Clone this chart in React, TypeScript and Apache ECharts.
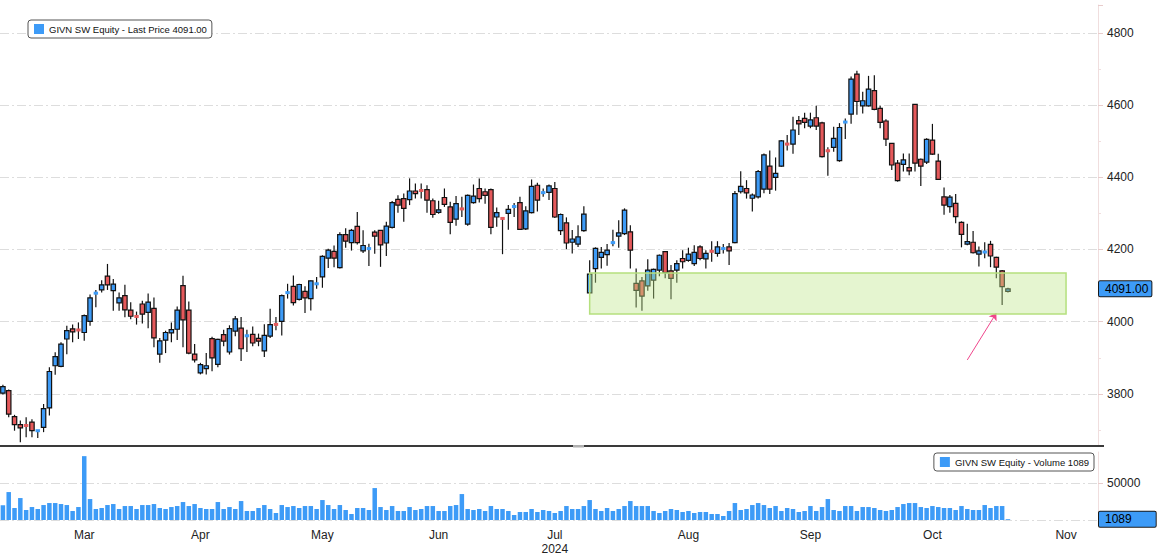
import React, { useEffect, useRef } from "react";
import * as echarts from "echarts";

const FONT = "'Liberation Sans', Arial, Helvetica, sans-serif";
const BLUE = "#3d9bf7";
const RED = "#e5595b";
const PINK = "#f0468c";
const GRID_LINE = "#dddddd";
const AXIS_PINK = "#f0dede";

// trading calendar (SIX Swiss Exchange, 2024)
const START_DATE = "2024-02-12";
const AXIS_DAYS = 189;
const HOLIDAYS = ["2024-03-29", "2024-04-01", "2024-05-01", "2024-05-09", "2024-05-20", "2024-08-01"];
const MONTH_NAMES = ["Jan", "Feb", "Mar", "Apr", "May", "Jun", "Jul", "Aug", "Sep", "Oct", "Nov", "Dec"];
const YEAR_MONTH = "2024-07";

const opens = [
  3802, 3809, 3737, 3715, 3714, 3722, 3697, 3707, 3761, 3878,
  3876, 3952, 3980, 3979, 3970, 4001, 4076, 4088, 4126, 4086,
  4052, 4072, 4032, 4017, 4049, 4026, 4037, 3910, 3949, 3969,
  3979, 4100, 4032, 3910, 3858, 3870, 3953, 3882, 3964, 3916,
  3974, 3982, 3958, 3965, 3954, 3919, 3960, 3995, 4001, 4079,
  4098, 4062, 4084, 4064, 4102, 4124, 4176, 4195, 4150, 4241,
  4219, 4264, 4196, 4200, 4248, 4253, 4218, 4261, 4339, 4341,
  4338, 4362, 4366, 4366, 4335, 4303, 4344, 4318, 4284, 4315,
  4270, 4330, 4369, 4360, 4366, 4290, 4289, 4300, 4318, 4330,
  4257, 4302, 4378, 4355, 4358, 4369, 4252, 4274, 4220, 4215,
  4252, 4080, 4147, 4178, 4186, 4217, 4237, 4244, 4249, 4106,
  4113, 4099, 4115, 4143, 4194, 4141, 4143, 4175, 4170, 4161,
  4207, 4174, 4198, 4189, 4200, 4207, 4219, 4360, 4369, 4342,
  4346, 4367, 4431, 4400, 4431, 4494, 4492, 4557, 4563, 4542,
  4565, 4551, 4475, 4483, 4446, 4550, 4575, 4686, 4598, 4598,
  4640, 4591, 4556, 4494, 4439, 4436, 4427, 4602, 4450, 4442,
  4503, 4445, 4346, 4319, 4328, 4275, 4215, 4220, 4187, 4190,
  4214, 4178, 4141, 4084,
];
const closes = [
  3820, 3744, 3715, 3706, 3711, 3698, 3699, 3759, 3862, 3903,
  3938, 3975, 3972, 3975, 4017, 4066, 4082, 4102, 4102, 4104,
  4066, 4033, 4015, 4012, 4021, 4054, 3955, 3947, 3970, 3978,
  4032, 4005, 3913, 3894, 3881, 3878, 3900, 3951, 3946, 3981,
  4008, 3925, 3964, 3941, 3946, 3962, 3992, 3990, 4072, 4082,
  4053, 4103, 4066, 4113, 4108, 4181, 4198, 4176, 4241, 4223,
  4253, 4219, 4211, 4205, 4237, 4213, 4265, 4330, 4323, 4314,
  4362, 4355, 4361, 4337, 4297, 4310, 4325, 4275, 4327, 4310,
  4350, 4348, 4341, 4350, 4261, 4302, 4283, 4311, 4320, 4256,
  4307, 4375, 4337, 4360, 4376, 4290, 4297, 4218, 4229, 4235,
  4298, 4132, 4203, 4192, 4198, 4221, 4246, 4309, 4198, 4087,
  4071, 4143, 4145, 4184, 4136, 4120, 4161, 4166, 4187, 4192,
  4175, 4189, 4192, 4207, 4205, 4196, 4355, 4375, 4357, 4351,
  4416, 4462, 4367, 4411, 4501, 4490, 4531, 4548, 4552, 4559,
  4542, 4457, 4472, 4508, 4538, 4556, 4672, 4610, 4612, 4644,
  4588, 4552, 4506, 4434, 4391, 4448, 4418, 4439, 4431, 4505,
  4464, 4394, 4323, 4345, 4291, 4242, 4222, 4191, 4196, 4196,
  4182, 4151, 4097, 4091,
];
const lows = [
  3798, 3735, 3698, 3666, 3680, 3680, 3678, 3694, 3740, 3853,
  3874, 3910, 3943, 3952, 3947, 3989, 4040, 4081, 4088, 4030,
  4030, 4012, 4007, 3992, 3995, 3982, 3929, 3886, 3913, 3943,
  3949, 3929, 3910, 3887, 3854, 3854, 3863, 3874, 3932, 3909,
  3960, 3891, 3916, 3932, 3932, 3902, 3955, 3976, 3962, 4064,
  4045, 4059, 4024, 4031, 4091, 4094, 4149, 4151, 4147, 4205,
  4197, 4214, 4190, 4154, 4188, 4152, 4182, 4258, 4302, 4277,
  4323, 4341, 4341, 4302, 4288, 4299, 4318, 4242, 4266, 4290,
  4266, 4327, 4330, 4327, 4242, 4263, 4187, 4255, 4290, 4254,
  4254, 4300, 4305, 4346, 4337, 4287, 4240, 4201, 4189, 4207,
  4249, 4078, 4108, 4147, 4155, 4209, 4205, 4240, 4147, 4039,
  4030, 4086, 4064, 4126, 4120, 4062, 4108, 4147, 4166, 4154,
  4170, 4147, 4166, 4180, 4189, 4157, 4217, 4355, 4341, 4305,
  4341, 4356, 4354, 4363, 4429, 4474, 4465, 4517, 4536, 4536,
  4531, 4455, 4404, 4471, 4443, 4506, 4548, 4573, 4577, 4596,
  4586, 4536, 4487, 4420, 4388, 4416, 4406, 4416, 4376, 4437,
  4462, 4393, 4296, 4302, 4273, 4206, 4212, 4189, 4153, 4176,
  4151, 4120, 4046, 4081,
];
const highs = [
  3825, 3812, 3742, 3726, 3735, 3730, 3700, 3772, 3874, 3915,
  3943, 3989, 3992, 3998, 4020, 4075, 4088, 4115, 4160, 4118,
  4081, 4102, 4054, 4028, 4058, 4078, 4067, 3955, 3975, 3998,
  4042, 4127, 4056, 3938, 3886, 3913, 3958, 3953, 3978, 3990,
  4016, 4013, 3978, 3987, 3967, 3993, 4036, 4013, 4075, 4105,
  4128, 4105, 4098, 4114, 4124, 4184, 4202, 4211, 4248, 4259,
  4257, 4304, 4253, 4216, 4253, 4253, 4277, 4334, 4350, 4355,
  4397, 4383, 4383, 4378, 4341, 4335, 4369, 4332, 4348, 4346,
  4352, 4380, 4397, 4369, 4369, 4316, 4290, 4323, 4329, 4346,
  4320, 4394, 4385, 4369, 4380, 4387, 4300, 4289, 4254, 4267,
  4320, 4170, 4206, 4207, 4215, 4255, 4281, 4314, 4267, 4147,
  4124, 4173, 4147, 4186, 4196, 4157, 4170, 4198, 4205, 4212,
  4212, 4198, 4223, 4223, 4215, 4218, 4362, 4417, 4392, 4355,
  4420, 4466, 4474, 4455, 4503, 4517, 4568, 4570, 4579, 4579,
  4598, 4554, 4483, 4540, 4550, 4563, 4679, 4695, 4637, 4681,
  4683, 4598, 4561, 4494, 4448, 4466, 4466, 4602, 4452, 4508,
  4548, 4465, 4372, 4351, 4354, 4278, 4271, 4251, 4208, 4220,
  4224, 4180, 4143, 4094,
];
const volumes = [
  20000, 37800, 16200, 29700, 13500, 17550, 14850, 20250, 22950, 22950,
  21600, 20250, 12150, 17550, 86400, 28350, 14850, 16200, 20250, 21600,
  14850, 18900, 18900, 14850, 20250, 20250, 21600, 16200, 14850, 17550,
  18900, 24300, 18900, 21600, 16200, 14850, 14850, 24300, 14850, 17550,
  14850, 25650, 12150, 12150, 16200, 20250, 14850, 9450, 20250, 17550,
  18900, 16200, 18900, 18900, 14850, 27000, 20250, 14850, 20250, 13500,
  8100, 16200, 16200, 13500, 43200, 17550, 13500, 18900, 12150, 12150,
  17550, 13500, 14850, 18900, 18900, 12150, 12150, 18900, 20250, 35100,
  14850, 13500, 14850, 12150, 18900, 14850, 14850, 12150, 6750, 10800,
  10800, 14850, 10800, 13500, 12150, 9450, 12150, 18900, 14850, 14850,
  18900, 27000, 14850, 12150, 16200, 12150, 14850, 18900, 25650, 18900,
  18900, 18900, 12150, 9450, 12150, 14850, 13500, 10800, 12150, 9450,
  10800, 10800, 8100, 8100, 5400, 12150, 22950, 13500, 14850, 20250,
  22950, 20250, 16200, 18900, 12150, 16200, 14850, 10800, 12150, 18900,
  12150, 17550, 28350, 13500, 12150, 18900, 18900, 12150, 17550, 17550,
  16200, 13500, 12150, 13500, 17550, 21600, 22950, 22950, 17550, 16200,
  18900, 17550, 16200, 16200, 13500, 18900, 14850, 13500, 13500, 20250,
  16200, 18900, 18900, 1089,
];

// annotation: support zone and arrow (day index on the axis, price)
const ZONE_FROM_DAY = 101;
const ZONE_TO_DAY = 183;
const ZONE_LOW = 4021;
const ZONE_HIGH = 4135;
const ARROW_FROM = [166, 3894];
const ARROW_TO = [171, 4024];

const PRICE_MIN = 3658.4;
const PRICE_MAX = 4877.3;
const VOL_MAX = 92000;

function tradingDays(start: string, count: number): string[] {
  const hol = new Set(HOLIDAYS);
  const out: string[] = [];
  const d = new Date(start + "T00:00:00Z");
  while (out.length < count) {
    const wd = d.getUTCDay();
    const s = d.toISOString().slice(0, 10);
    if (wd !== 0 && wd !== 6 && !hol.has(s)) out.push(s);
    d.setUTCDate(d.getUTCDate() + 1);
  }
  return out;
}

const dates = tradingDays(START_DATE, AXIS_DAYS);
const monthStarts = new Set<number>();
dates.forEach((d, i) => {
  if (i > 0 && d.slice(0, 7) !== dates[i - 1].slice(0, 7)) monthStarts.add(i);
});

const lastClose = closes[closes.length - 1];
const lastVol = volumes[volumes.length - 1];
const PRICE_NAME = `GIVN SW Equity - Last Price ${lastClose.toFixed(2)}`;
const VOL_NAME = `GIVN SW Equity - Volume ${lastVol}`;

const candleData = opens.map((o, i) => [dates[i], o, closes[i], lows[i], highs[i]]);

const renderCandle = (_params: any, api: any) => {
  const idx = api.value(0);
  const o = api.value(1);
  const c = api.value(2);
  const l = api.value(3);
  const h = api.value(4);
  const pO = api.coord([idx, o]);
  const pC = api.coord([idx, c]);
  const pL = api.coord([idx, l]);
  const pH = api.coord([idx, h]);
  const band = api.size([1, 0])[0];
  const w = band * 0.76;
  const x = pO[0];
  const fill = c >= o ? BLUE : RED;
  const top = Math.min(pO[1], pC[1]);
  const bot = Math.max(pO[1], pC[1]);
  const children: any[] = [
    { type: "line", shape: { x1: x, y1: pH[1], x2: x, y2: pL[1] }, style: { stroke: "#111", lineWidth: 1.2 } },
  ];
  if (bot - top < 2.5) {
    const mid = (top + bot) / 2;
    children.push({ type: "rect", shape: { x: x - w / 2, y: mid - 1.5, width: w, height: 3 }, style: { fill } });
  } else {
    children.push({
      type: "rect",
      shape: { x: x - w / 2, y: top, width: w, height: bot - top },
      style: { fill, stroke: "#111", lineWidth: 1.2 },
    });
  }
  return { type: "group", children };
};

const tagLabel = (text: string, padRight: number) => ({
  show: true,
  position: "end",
  formatter: text,
  backgroundColor: BLUE,
  borderColor: "#1a1a1a",
  borderWidth: 1,
  borderRadius: 1,
  padding: [2, padRight, 1, 6],
  color: "#000",
  opacity: 1,
  fontSize: 12,
  fontFamily: FONT,
  distance: 1,
});

const legendBase = {
  orient: "horizontal",
  itemWidth: 10,
  itemHeight: 10,
  itemGap: 0,
  padding: [4, 5, 4, 6],
  backgroundColor: "#fff",
  borderColor: "#555",
  borderWidth: 1,
  borderRadius: 3,
  selectedMode: false,
  textStyle: { fontSize: 9.5, color: "#111", fontFamily: FONT },
};

const gridDash = [9, 3, 2, 3];
const plainNumber = (v: number) => String(Math.round(v));

const option: any = {
  animation: false,
  backgroundColor: "#ffffff",
  textStyle: { fontFamily: FONT },
  legend: [
    { ...legendBase, left: 28, top: 20, data: [{ name: PRICE_NAME, icon: "rect", itemStyle: { color: BLUE } }] },
    { ...legendBase, right: 69, top: 453, data: [{ name: VOL_NAME, icon: "rect", itemStyle: { color: BLUE } }] },
  ],
  grid: [
    { left: -4, right: 65, top: 5, height: 440 },
    { left: -4, right: 65, top: 452, height: 68 },
  ],
  xAxis: [
    {
      type: "category",
      gridIndex: 0,
      data: dates,
      boundaryGap: true,
      show: false,
    },
    {
      type: "category",
      gridIndex: 1,
      data: dates,
      boundaryGap: true,
      axisLine: { show: false },
      axisTick: { show: false },
      splitLine: { show: false },
      axisLabel: {
        interval: (idx: number) => monthStarts.has(idx),
        formatter: (val: string) => {
          const m = MONTH_NAMES[parseInt(val.slice(5, 7), 10) - 1];
          return val.slice(0, 7) === YEAR_MONTH ? `${m}\n${val.slice(0, 4)}` : m;
        },
        color: "#222",
        fontSize: 12,
        lineHeight: 14,
        margin: 8,
        fontFamily: FONT,
      },
    },
  ],
  yAxis: [
    {
      type: "value",
      gridIndex: 0,
      position: "right",
      min: PRICE_MIN,
      max: PRICE_MAX,
      splitNumber: 6,
      minInterval: 200,
      maxInterval: 200,
      axisLine: { show: true, lineStyle: { color: AXIS_PINK, width: 1 } },
      axisTick: { show: true, length: 5, lineStyle: { color: "#e8cccc" } },
      minorTick: { show: true, splitNumber: 2, length: 3, lineStyle: { color: "#f0dede" } },
      axisLabel: { showMinLabel: false, showMaxLabel: false, margin: 9, color: "#222", fontSize: 12, fontFamily: FONT, formatter: plainNumber },
      splitLine: { show: true, showMinLine: false, showMaxLine: false, lineStyle: { color: GRID_LINE, type: gridDash, width: 1 } },
    },
    {
      type: "value",
      gridIndex: 1,
      position: "right",
      min: 0,
      max: VOL_MAX,
      interval: 50000,
      axisLine: { show: true, lineStyle: { color: AXIS_PINK, width: 1 } },
      axisTick: { show: true, length: 5, lineStyle: { color: "#e8cccc" } },
      axisLabel: { showMinLabel: false, showMaxLabel: false, margin: 9, color: "#222", fontSize: 12, fontFamily: FONT, formatter: plainNumber },
      splitLine: { show: true, showMaxLine: false, lineStyle: { color: GRID_LINE, type: gridDash, width: 1 } },
    },
  ],
  graphic: [
    { type: "rect", left: 0, top: 445, shape: { width: 1104, height: 2 }, style: { fill: "#3a3a3a" }, z: 100 },
    { type: "rect", left: 573, top: 445, shape: { width: 11, height: 2.5 }, style: { fill: "#b0b0b0" }, z: 101 },
  ],
  series: [
    {
      type: "custom",
      name: PRICE_NAME,
      xAxisIndex: 0,
      yAxisIndex: 0,
      renderItem: renderCandle,
      dimensions: ["date", "open", "close", "low", "high"],
      encode: { x: 0, y: [1, 2, 3, 4] },
      data: candleData,
      clip: true,
      itemStyle: { color: BLUE },
      markArea: {
        silent: true,
        z: 10,
        itemStyle: { color: "rgba(190,230,138,0.4)", borderColor: "#b5e07e", borderWidth: 1.5 },
        data: [[
          { xAxis: dates[ZONE_FROM_DAY], yAxis: ZONE_LOW },
          { xAxis: dates[ZONE_TO_DAY], yAxis: ZONE_HIGH },
        ]],
      },
      markLine: {
        silent: true,
        symbol: ["none", "none"],
        label: { show: false },
        lineStyle: { type: "solid" },
        data: [
          [
            { coord: [dates[ARROW_FROM[0]], ARROW_FROM[1]], symbol: "none", lineStyle: { color: PINK, width: 1, type: "solid" }, label: { show: false } },
            { coord: [dates[ARROW_TO[0]], ARROW_TO[1]], symbol: "arrow", symbolSize: 7, lineStyle: { color: PINK, width: 1, type: "solid" }, label: { show: false } },
          ],
        ],
      },
    },
    {
      type: "line",
      name: "lastPriceTag",
      xAxisIndex: 0,
      yAxisIndex: 0,
      data: [],
      silent: true,
      markLine: {
        silent: true,
        symbol: ["none", "none"],
        lineStyle: { color: "rgba(0,0,0,0)", width: 0 },
        data: [{ yAxis: lastClose, label: tagLabel(lastClose.toFixed(2), 3) }],
      },
    },
    {
      type: "bar",
      name: VOL_NAME,
      xAxisIndex: 1,
      yAxisIndex: 1,
      data: volumes,
      barWidth: 4.5,
      itemStyle: { color: BLUE },
      markLine: {
        silent: true,
        symbol: ["none", "none"],
        lineStyle: { color: "rgba(0,0,0,0)", width: 0 },
        data: [{ yAxis: lastVol, label: tagLabel(String(lastVol), 24) }],
      },
    },
  ],
};

export default function App() {
  const ref = useRef<HTMLDivElement>(null);
  useEffect(() => {
    if (!ref.current) return;
    const chart = echarts.init(ref.current, null, { renderer: "svg" });
    chart.setOption(option);
    return () => chart.dispose();
  }, []);
  return (
    <div
      ref={ref}
      style={{ position: "fixed", left: 0, top: 0, width: 1163, height: 560, background: "#fff" }}
    />
  );
}
